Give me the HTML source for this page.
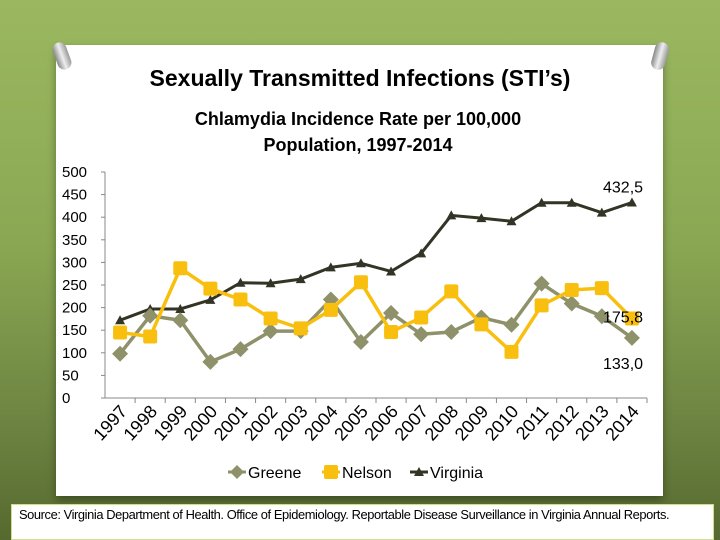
<!DOCTYPE html>
<html><head><meta charset="utf-8"><style>
body{margin:0;width:720px;height:540px;overflow:hidden;font-family:"Liberation Sans",sans-serif;}
#bg{position:absolute;left:0;top:0;width:720px;height:540px;background:linear-gradient(#9bb860 0%,#8aa853 45%,#6b8240 80%,#56692f 100%);}
#panel{position:absolute;left:56px;top:45px;width:607px;height:451px;background:#fff;box-shadow:0 4px 8px rgba(0,0,0,.35);}
#src{position:absolute;left:11px;top:504px;width:703px;height:36px;background:#fff;border:1px solid #cfe08a;box-sizing:border-box;font-size:12.5px;padding:3px 0 0 7px;letter-spacing:-0.4px;white-space:nowrap;}
#src span{display:inline-block;transform:scaleX(1.03);transform-origin:left;}
.pin{position:absolute;width:14px;height:28px;border-radius:7px;background:linear-gradient(90deg,#888,#eee,#999);}
</style></head><body>
<div id="bg"></div>
<div id="panel"></div>
<div class="pin" style="left:55px;top:42px;transform:rotate(-20deg)"></div>
<div class="pin" style="left:653px;top:42px;transform:rotate(15deg)"></div>
<div id="src"><span>Source: Virginia Department of Health. Office of Epidemiology. Reportable Disease Surveillance in Virginia Annual Reports.</span></div>
<svg id="chart" width="720" height="540" style="position:absolute;left:0;top:0">
<text x="360" y="86" text-anchor="middle" font-size="23" font-weight="bold" font-family="Liberation Sans">Sexually Transmitted Infections (STI’s)</text>
<text x="358" y="125" text-anchor="middle" font-size="18" font-weight="bold" font-family="Liberation Sans">Chlamydia Incidence Rate per 100,000</text>
<text x="358" y="151" text-anchor="middle" font-size="18" font-weight="bold" font-family="Liberation Sans">Population, 1997-2014</text>
<g id="plot"></g>
</svg>
<script>
const years=["1997","1998","1999","2000","2001","2002","2003","2004","2005","2006","2007","2008","2009","2010","2011","2012","2013","2014"];
const greene=[98,182,172,80,108,148,148,218,124,188,141,146,178,162,253,209,181,133];
const nelson=[145,136,287,242,218,176,154,195,256,146,178,236,163,102,205,239,243,175.8];
const virginia=[172,197,197,217,255,254,263,289,298,280,320,404,398,391,432,432,410,432.5];
const yTicks=[0,50,100,150,200,250,300,350,400,450,500];
const endLabels=["432,5","175,8","133,0"];
const NS="http://www.w3.org/2000/svg";
const g=document.getElementById('plot');
const x0=105,x1=647,y0=398,y1=172;
const bw=(x1-x0)/years.length;
const X=i=>x0+bw*(i+0.5);
const Y=v=>y0-(v/500)*(y0-y1);
function mk(t,a){const e=document.createElementNS(NS,t);for(const k in a)e.setAttribute(k,a[k]);g.appendChild(e);return e;}
let e=mk('line',{x1:x0,y1:y1,x2:x0,y2:y0,stroke:'#888'});

e=mk('line',{x1:x0,y1:y0,x2:x1,y2:y0,stroke:'#888'});

yTicks.forEach(v=>{
 const t=mk('line',{x1:x0-4,y1:Y(v),x2:x0,y2:Y(v),stroke:'#888'});
 
 const l=mk('text',{x:62,y:Y(v)+5,'font-size':15,'font-family':'Liberation Sans'});l.textContent=v;
 
});
years.forEach((y,i)=>{
 const t=mk('line',{x1:x0+bw*(i+1),y1:y0,x2:x0+bw*(i+1),y2:y0+5,stroke:'#888'});
 
 const l=mk('text',{x:X(i)+8,y:y0+14,'font-size':18,'font-family':'Liberation Sans','text-anchor':'end',transform:`rotate(-48 ${X(i)+8} ${y0+14})`});l.textContent=y;
 
});
function series(d,col,w,shape,name){
 const p=mk('polyline',{points:d.map((v,i)=>X(i)+','+Y(v)).join(' '),fill:'none',stroke:col,'stroke-width':w});
 
 d.forEach((v,i)=>{
  const cx=X(i),cy=Y(v);let m;
  if(shape=='d')m=mk('polygon',{points:`${cx},${cy-8} ${cx+8},${cy} ${cx},${cy+8} ${cx-8},${cy}`,fill:col});
  else if(shape=='s')m=mk('rect',{x:cx-7,y:cy-7,width:14,height:14,rx:2,fill:col});
  else m=mk('polygon',{points:`${cx},${cy-5} ${cx+5},${cy+4} ${cx-5},${cy+4}`,fill:col});
  
 });
}
series(virginia,'#333326',3,'t','virginia');
series(greene,'#8e9169',3.5,'d','greene');
series(nelson,'#f9bf0f',3.5,'s','nelson');
const lv=[virginia[17],nelson[17],greene[17]];
const ly=[Y(lv[0])-15,Y(lv[1])-1,Y(lv[2])+26];
endLabels.forEach((s,k)=>{const t=mk('text',{x:603,y:ly[k]+5,'font-size':16,'font-family':'Liberation Sans'});t.textContent=s;
 });
const leg=[['Greene','#8e9169','d',228],['Nelson','#f9bf0f','s',322],['Virginia','#333326','t',410]];
leg.forEach(([n,c,s,lx])=>{
 const l=mk('line',{x1:lx,y1:472,x2:lx+18,y2:472,stroke:c,'stroke-width':3});
 
 const cx=lx+9,cy=472;let m;
 if(s=='d')m=mk('polygon',{points:`${cx},${cy-7} ${cx+7},${cy} ${cx},${cy+7} ${cx-7},${cy}`,fill:c});
 else if(s=='s')m=mk('rect',{x:cx-7,y:cy-7,width:14,height:14,rx:2,fill:c});
 else m=mk('polygon',{points:`${cx},${cy-5} ${cx+5},${cy+4} ${cx-5},${cy+4}`,fill:c});
 
 const t=mk('text',{x:lx+20,y:478,'font-size':16,'font-family':'Liberation Sans'});t.textContent=n;
 
});
</script>
</body></html>
